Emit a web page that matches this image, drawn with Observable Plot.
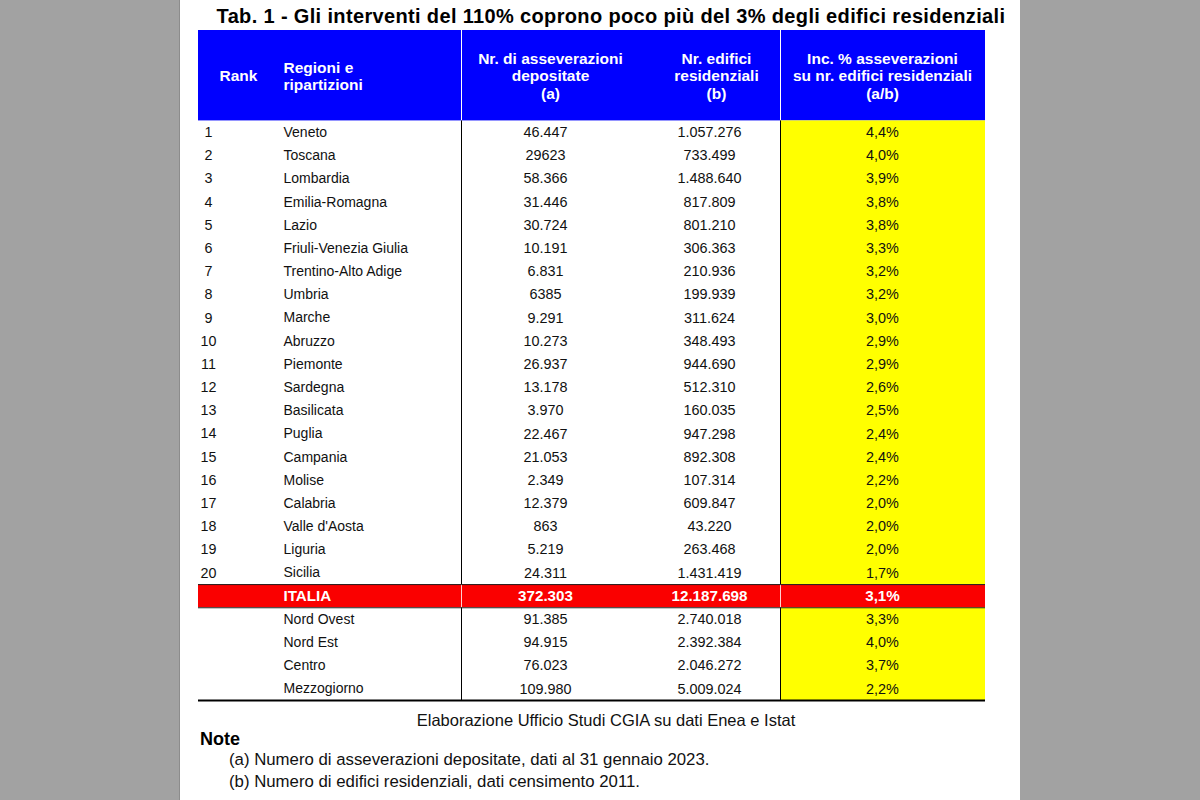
<!DOCTYPE html>
<html>
<head>
<meta charset="utf-8">
<script src="https://cdn.jsdelivr.net/npm/d3@7"></script>
<script src="https://cdn.jsdelivr.net/npm/@observablehq/plot@0.6"></script>
<style>
  html, body { margin: 0; padding: 0; width: 1200px; height: 800px; overflow: hidden; background: #a2a2a2; font-family: "Liberation Sans", Arial, sans-serif; }
  #page { position: absolute; left: 179px; top: 0; width: 840px; height: 800px; background: #ffffff; border-left: 1px solid #8c8c8c; }
  #title { position: absolute; left: 0; top: 2px; width: 862px; text-align: center; font-weight: bold; font-size: 20px; letter-spacing: 0.35px; line-height: 28px; white-space: nowrap; color: #000; }
  #chart { position: absolute; left: 0; top: 30px; }
  #source { position: absolute; left: 0; top: 710px; width: 852px; text-align: center; font-size: 16.5px; line-height: 20px; color: #111; }
  #note-head { position: absolute; left: 20px; top: 729px; font-weight: bold; font-size: 18px; line-height: 20px; color: #000; }
  .note { position: absolute; left: 49px; font-size: 16.8px; line-height: 20px; color: #111; white-space: nowrap; }
</style>
</head>
<body>
<div id="page">
  <div id="title"></div>
  <div id="chart"></div>
  <div id="source"></div>
  <div id="note-head"></div>
  <div class="note" id="note-a" style="top:750px"></div>
  <div class="note" id="note-b" style="top:772px"></div>
</div>
<script>
// ---------- DATA ----------
const titleText = "Tab. 1 - Gli interventi del 110% coprono poco più del 3% degli edifici residenziali";
const sourceText = "Elaborazione Ufficio Studi CGIA su dati Enea e Istat";
const noteTitle = "Note";
const notes = [
  "(a) Numero di asseverazioni depositate, dati al 31 gennaio 2023.",
  "(b) Numero di edifici residenziali, dati censimento 2011."
];
const headerLabels = [
  "Rank",
  "Regioni e\nripartizioni",
  "Nr. di asseverazioni\ndepositate\n(a)",
  "Nr. edifici\nresidenziali\n(b)",
  "Inc. % asseverazioni\nsu nr. edifici residenziali\n(a/b)"
];
const ranks = [1, 2, 3, 4, 5, 6, 7, 8, 9, 10, 11, 12, 13, 14, 15, 16, 17, 18, 19, 20];
const regions = ["Veneto", "Toscana", "Lombardia", "Emilia-Romagna", "Lazio", "Friuli-Venezia Giulia",
  "Trentino-Alto Adige", "Umbria", "Marche", "Abruzzo", "Piemonte", "Sardegna", "Basilicata", "Puglia",
  "Campania", "Molise", "Calabria", "Valle d'Aosta", "Liguria", "Sicilia"];
const asseverazioni = ["46.447", "29623", "58.366", "31.446", "30.724", "10.191", "6.831", "6385", "9.291",
  "10.273", "26.937", "13.178", "3.970", "22.467", "21.053", "2.349", "12.379", "863", "5.219", "24.311"];
const edifici = ["1.057.276", "733.499", "1.488.640", "817.809", "801.210", "306.363", "210.936", "199.939",
  "311.624", "348.493", "944.690", "512.310", "160.035", "947.298", "892.308", "107.314", "609.847",
  "43.220", "263.468", "1.431.419"];
const incidenza = [4.4, 4.0, 3.9, 3.8, 3.8, 3.3, 3.2, 3.2, 3.0, 2.9, 2.9, 2.6, 2.5, 2.4, 2.4, 2.2, 2.0, 2.0, 2.0, 1.7];
const totalName = "ITALIA";
const totalAsseverazioni = "372.303";
const totalEdifici = "12.187.698";
const totalIncidenza = 3.1;
const ripartizioni = ["Nord Ovest", "Nord Est", "Centro", "Mezzogiorno"];
const ripAsseverazioni = ["91.385", "94.915", "76.023", "109.980"];
const ripEdifici = ["2.740.018", "2.392.384", "2.046.272", "5.009.024"];
const ripIncidenza = [3.3, 4.0, 3.7, 2.2];

// ---------- LAYOUT (page pixel columns) ----------
const TABLE_X1 = 198, TABLE_X2 = 985;
const SEPARATORS = [461, 780];
const HILITE_X1 = 780;
const colHeadX = [238, 283, 550, 716, 882];
const colHeadAnchor = ["middle", "start", "middle", "middle", "middle"];
const colBodyX = {rank: 208, name: 283, a: 545, b: 709, c: 882};
const HEAD = 3.9; // header height in row units

// ---------- TABLE ----------
const pct = v => v.toFixed(1).replace(".", ",") + "%";
const rows = [
  ...regions.map((r, i) => ({kind: "region", rank: String(ranks[i]), name: r, a: asseverazioni[i], b: edifici[i], c: pct(incidenza[i])})),
  {kind: "total", rank: "", name: totalName, a: totalAsseverazioni, b: totalEdifici, c: pct(totalIncidenza)},
  ...ripartizioni.map((r, i) => ({kind: "area", rank: "", name: r, a: ripAsseverazioni[i], b: ripEdifici[i], c: pct(ripIncidenza[i])}))
];
rows.forEach((d, i) => { d.y1 = HEAD + i; d.y2 = HEAD + i + 1; d.y = HEAD + i + 0.5; });
const N = HEAD + rows.length;
const total = rows.find(d => d.kind === "total");
const regionRows = rows.filter(d => d.kind === "region");
const areaRows = rows.filter(d => d.kind === "area");
const plainRows = rows.filter(d => d.kind !== "total");

const header = headerLabels.map((t, i) => ({text: t, x: colHeadX[i], anchor: colHeadAnchor[i]}));
const headerBox = [{x1: TABLE_X1, x2: TABLE_X2, y1: 0, y2: HEAD}];
const hiliteBlocks = [
  {x1: HILITE_X1, x2: TABLE_X2, y1: regionRows[0].y1, y2: regionRows[regionRows.length - 1].y2},
  {x1: HILITE_X1, x2: TABLE_X2, y1: areaRows[0].y1, y2: areaRows[areaRows.length - 1].y2}
];
const totalBox = [{x1: TABLE_X1, x2: TABLE_X2, y1: total.y1, y2: total.y2}];

const FONT = '"Liberation Sans", Arial, sans-serif';
const bodyText = (key, anchor, size) => Plot.text(plainRows, {
  x: () => colBodyX[key], y: "y", text: key, textAnchor: anchor, fontSize: size, fill: "#111"
});
const totalText = (key, anchor) => Plot.text([total], {
  x: () => colBodyX[key], y: "y", text: key, textAnchor: anchor, fontSize: 15.2, fontWeight: "bold", fill: "#ffffff"
});

const chart = Plot.plot({
  width: 840,
  height: 674,
  marginTop: 0, marginBottom: 0, marginLeft: 0, marginRight: 0,
  x: {domain: [180, 1020], range: [0, 840], axis: null},
  y: {domain: [0, N], range: [0, 670], axis: null},
  style: {fontFamily: FONT, background: "transparent", overflow: "visible"},
  marks: [
    Plot.rect(headerBox, {x1: "x1", x2: "x2", y1: "y1", y2: "y2", fill: "#0000ff"}),
    Plot.ruleX(SEPARATORS, {x: d => d, y1: () => 0, y2: () => HEAD, stroke: "#ffffff", strokeWidth: 1}),
    Plot.rect(hiliteBlocks, {x1: "x1", x2: "x2", y1: "y1", y2: "y2", fill: "#ffff00"}),
    Plot.ruleX(SEPARATORS, {x: d => d, y1: () => HEAD, y2: () => N, stroke: "#000000", strokeWidth: 1}),
    Plot.rect(totalBox, {x1: "x1", x2: "x2", y1: "y1", y2: "y2", fill: "#fa0000"}),
    Plot.ruleX(SEPARATORS, {x: d => d, y1: () => total.y1, y2: () => total.y2, stroke: "#ffd0d0", strokeWidth: 1}),
    Plot.ruleY([total.y1, total.y2], {y: d => d, x1: () => TABLE_X1, x2: () => TABLE_X2, stroke: "#222", strokeWidth: 1}),
    Plot.ruleY([N], {y: d => d, x1: () => TABLE_X1, x2: () => TABLE_X2, stroke: "#000", strokeWidth: 2}),
    Plot.text(header.filter(d => d.anchor === "middle"), {x: "x", y: () => HEAD / 2, text: "text", textAnchor: "middle", lineHeight: 1.15, fontSize: 15.5, fontWeight: "bold", fill: "#ffffff"}),
    Plot.text(header.filter(d => d.anchor === "start"), {x: "x", y: () => HEAD / 2, text: "text", textAnchor: "start", lineHeight: 1.15, fontSize: 15.5, fontWeight: "bold", fill: "#ffffff"}),
    bodyText("rank", "middle", 14.3),
    bodyText("name", "start", 14),
    bodyText("a", "middle", 14.4),
    bodyText("b", "middle", 14.4),
    bodyText("c", "middle", 14.4),
    totalText("name", "start"),
    totalText("a", "middle"),
    totalText("b", "middle"),
    totalText("c", "middle")
  ]
});
document.getElementById("chart").appendChild(chart);
document.getElementById("title").textContent = titleText;
document.getElementById("source").textContent = sourceText;
document.getElementById("note-head").textContent = noteTitle;
document.getElementById("note-a").textContent = notes[0];
document.getElementById("note-b").textContent = notes[1];
</script>
</body>
</html>
